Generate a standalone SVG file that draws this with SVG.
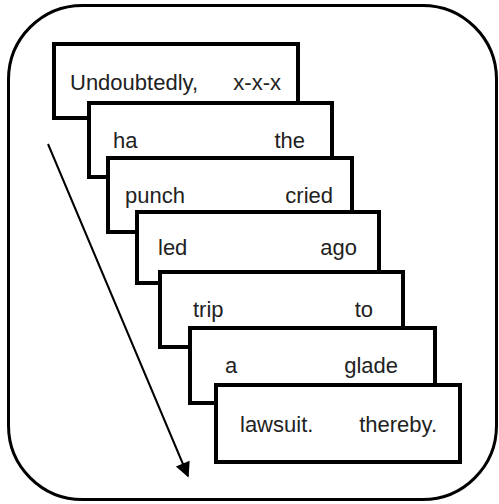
<svg xmlns="http://www.w3.org/2000/svg" width="499" height="504" viewBox="0 0 499 504">
<style>
.frame{fill:#fff;stroke:#000;stroke-width:3}
.box{fill:#fff;stroke:#000;stroke-width:4}
.t{font-family:"Liberation Sans",Arial,sans-serif;font-size:22px;fill:#222}
.r{text-anchor:end}
.arr{stroke:#000;stroke-width:2;fill:none}
</style>
<defs>
<marker id="ah" viewBox="0 0 10 10" refX="9" refY="5" markerWidth="20" markerHeight="15" markerUnits="userSpaceOnUse" orient="auto">
<path d="M0,0 L10,5 L0,10 z" fill="#000"/>
</marker>
</defs>
<rect class="frame" x="8.5" y="5.5" width="488" height="494" rx="74" ry="74"/>
<g id="connectors">
<line class="arr" x1="48" y1="144" x2="188" y2="476" marker-end="url(#ah)"/>
</g>
<g id="card1"><rect class="box" x="54" y="44" width="244" height="74"/><text class="t" x="70" y="90">Undoubtedly,</text><text class="t r" x="281" y="90">x-x-x</text></g>
<g id="card2"><rect class="box" x="89" y="103" width="243" height="74"/><text class="t" x="113" y="148">ha</text><text class="t r" x="305" y="148">the</text></g>
<g id="card3"><rect class="box" x="108" y="158" width="244" height="74"/><text class="t" x="125" y="203">punch</text><text class="t r" x="333" y="203">cried</text></g>
<g id="card4"><rect class="box" x="137" y="212" width="242" height="71"/><text class="t" x="158" y="255">led</text><text class="t r" x="357" y="255">ago</text></g>
<g id="card5"><rect class="box" x="160" y="272" width="243" height="75"/><text class="t" x="193" y="317">trip</text><text class="t r" x="373" y="317">to</text></g>
<g id="card6"><rect class="box" x="190" y="328" width="245" height="75"/><text class="t" x="225" y="373">a</text><text class="t r" x="398" y="373">glade</text></g>
<g id="card7"><rect class="box" x="216" y="385" width="244" height="77"/><text class="t" x="240" y="432">lawsuit.</text><text class="t r" x="437" y="432">thereby.</text></g>
</svg>
